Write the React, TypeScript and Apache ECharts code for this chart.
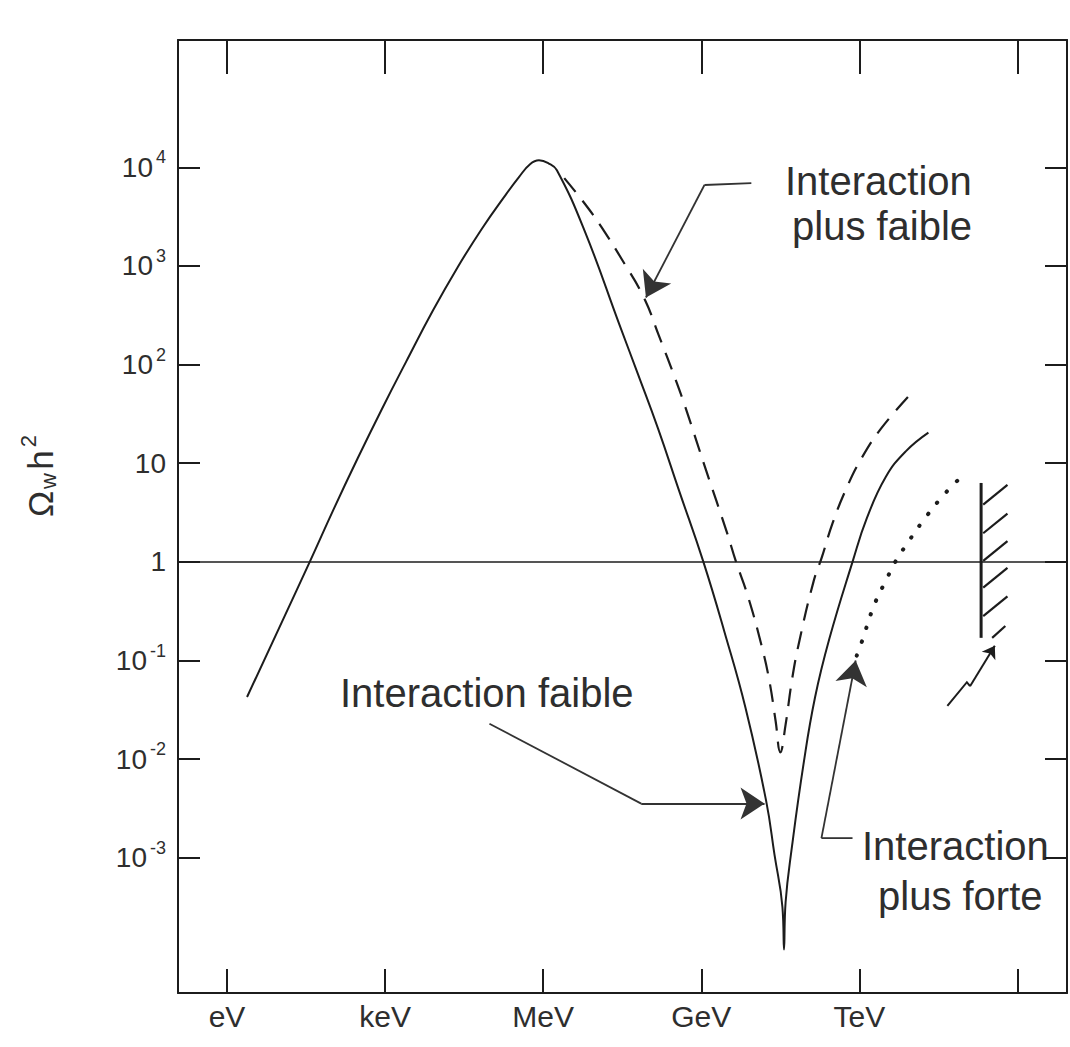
import React, { useEffect, useRef } from 'react';
import * as echarts from 'echarts';

// x = log10(mass / eV), y = log10(Ω_w h²)
const massTickValues = [0, 3, 6, 9, 12, 15];
const massTickLabels = ['eV', 'keV', 'MeV', 'GeV', 'TeV', ''];
const omegaTickValues = [-3, -2, -1, 0, 1, 2, 3, 4];

// solid curve: "Interaction faible"
const weakMass = [0.38, 1.57, 2.02, 2.48, 2.94, 3.40, 3.91, 4.38, 4.84, 5.26, 5.54, 5.75, 5.92, 6.10, 6.26, 6.79, 7.45, 7.80, 8.18, 8.58, 9.04, 9.44, 9.84, 10.23, 10.39, 10.54, 10.57, 10.60, 10.72, 10.94, 11.16, 11.43, 11.87, 12.14, 12.50, 12.88, 13.31];
const weakOmega = [-1.37, 0.0, 0.53, 1.05, 1.55, 2.03, 2.55, 2.99, 3.38, 3.70, 3.90, 4.03, 4.07, 4.04, 3.97, 3.35, 2.40, 1.90, 1.35, 0.72, 0.0, -0.71, -1.48, -2.42, -2.97, -3.50, -3.93, -3.45, -2.89, -2.05, -1.37, -0.78, 0.0, 0.44, 0.86, 1.12, 1.31];

// dashed curve: "Interaction plus faible"
const fainterMass = [6.40, 6.79, 7.11, 7.50, 7.91, 8.19, 8.49, 8.69, 9.09, 9.48, 9.66, 9.88, 10.14, 10.29, 10.41, 10.50, 10.60, 10.72, 10.85, 11.13, 11.29, 11.49, 11.75, 12.04, 12.41, 12.97];
const fainterOmega = [3.89, 3.63, 3.39, 3.06, 2.68, 2.30, 1.88, 1.58, 0.93, 0.31, 0.0, -0.34, -0.84, -1.20, -1.61, -1.93, -1.65, -1.20, -0.83, -0.20, 0.05, 0.39, 0.74, 1.05, 1.35, 1.70];

// dotted curve: "Interaction plus forte"
const strongerMass = [11.95, 12.04, 12.28, 12.53, 12.68, 12.90, 13.20, 13.57, 13.95];
const strongerOmega = [-0.95, -0.82, -0.44, -0.16, 0.0, 0.18, 0.41, 0.66, 0.87];

// hatched bound
const boundMass = [14.31, 14.31];
const boundOmega = [-0.77, 0.80];
const hatchOmega = [0.58, 0.29, 0.01, -0.26, -0.55];

// annotation leaders (data coords), last point = arrow tip
const leaderFainter = [[9.95, 3.84], [9.06, 3.82], [7.95, 2.68]];
const leaderWeak = [[4.98, -1.64], [7.86, -2.45], [10.2, -2.45]];
const leaderStronger = [[11.87, -2.80], [11.28, -2.80], [11.93, -1.00]];
const zigzag = [[13.67, -1.46], [14.04, -1.22], [14.10, -1.26], [14.57, -0.85]];

const X_MIN = -0.93;
const X_MAX = 15.94;
const Y_MIN = -4.37;
const Y_MAX = 5.29;

const App = () => {
  const ref = useRef<HTMLDivElement>(null);
  useEffect(() => {
    document.body.style.margin = '0';
    const chart = echarts.init(ref.current!, null, { renderer: 'svg' });
    const ink = '#1c1c1c';
    const textInk = '#2e2e2e';
    const font = "'Liberation Sans', Arial, sans-serif";
    const pair = (xs: number[], ys: number[]) => xs.map((x, i) => [x, ys[i]]);

    const axisLine = { show: true, onZero: false, lineStyle: { color: ink, width: 2 } };

    const hatchData: any[] = hatchOmega.map((y) => ({ coords: [[boundMass[0] + 0.04, y], [boundMass[0] + 0.5, y + 0.2]] }));
    hatchData.push({ coords: [[14.52, -0.77], [14.77, -0.65]] });

    const leaders = [leaderFainter, leaderWeak, leaderStronger];
    const bodies = leaders.map((pts) => ({ coords: pts.slice(0, pts.length - 1) }));
    const heads = leaders.map((pts) => ({ coords: pts.slice(pts.length - 2) }));

    const option: any = {
      animation: false,
      backgroundColor: '#ffffff',
      grid: { left: 178, right: 3, top: 40, bottom: 54, containLabel: false },
      xAxis: [
        {
          type: 'value', position: 'bottom', min: X_MIN, max: X_MAX,
          axisLine,
          axisTick: { show: true, inside: true, length: 24, customValues: massTickValues, lineStyle: { color: ink, width: 2 } },
          axisLabel: {
            show: true, customValues: massTickValues.slice(0, 5), margin: 8,
            fontFamily: font, fontSize: 30, color: textInk,
            formatter: (v: number) => massTickLabels[massTickValues.indexOf(v)] ?? '',
          },
          splitLine: { show: false },
        },
        {
          type: 'value', position: 'top', min: X_MIN, max: X_MAX,
          axisLine,
          axisTick: { show: true, inside: true, length: 34, customValues: massTickValues, lineStyle: { color: ink, width: 2 } },
          axisLabel: { show: false },
          splitLine: { show: false },
        },
      ],
      yAxis: [
        {
          type: 'value', position: 'left', min: Y_MIN, max: Y_MAX,
          axisLine,
          axisTick: { show: true, inside: true, length: 22, customValues: omegaTickValues, lineStyle: { color: ink, width: 2 } },
          axisLabel: {
            show: true, customValues: omegaTickValues, margin: 12,
            fontFamily: font, fontSize: 28, color: textInk,
            formatter: (v: number) => (v === 0 ? '1' : v === 1 ? '10' : '10{sup|' + v + '}'),
            rich: { sup: { fontFamily: font, fontSize: 18, color: textInk, padding: [0, 0, 20, 3] } },
          },
          splitLine: { show: false },
        },
        {
          type: 'value', position: 'right', min: Y_MIN, max: Y_MAX,
          axisLine,
          axisTick: { show: true, inside: true, length: 22, customValues: omegaTickValues, lineStyle: { color: ink, width: 2 } },
          axisLabel: { show: false },
          splitLine: { show: false },
        },
      ],
      series: [
        {
          name: 'Interaction faible', type: 'line', data: pair(weakMass, weakOmega),
          showSymbol: false, smooth: 0.45, lineStyle: { color: ink, width: 2 },
          markLine: {
            silent: true, symbol: 'none', label: { show: false },
            lineStyle: { color: ink, width: 1.6, type: 'solid' },
            data: [{ yAxis: 0 }],
          },
        },
        {
          name: 'Interaction plus faible', type: 'line', data: pair(fainterMass, fainterOmega),
          showSymbol: false, smooth: 0.45, lineStyle: { color: ink, width: 2.2, type: [18, 11] },
        },
        {
          name: 'Interaction plus forte', type: 'line', data: pair(strongerMass, strongerOmega),
          showSymbol: false, smooth: 0.45, lineStyle: { color: ink, width: 4, type: [0.5, 14], cap: 'round' },
        },
        {
          name: 'bound', type: 'line', data: pair(boundMass, boundOmega),
          showSymbol: false, lineStyle: { color: ink, width: 3 },
        },
        {
          name: 'hatch', type: 'lines', coordinateSystem: 'cartesian2d',
          data: hatchData, symbol: 'none', lineStyle: { color: ink, width: 2.2, opacity: 1, curveness: 0 },
        },
        {
          name: 'leader lines', type: 'lines', coordinateSystem: 'cartesian2d', polyline: true,
          data: bodies,
          lineStyle: { color: '#333', width: 1.8, opacity: 1, curveness: 0 },
        },
        {
          name: 'leader arrows', type: 'lines', coordinateSystem: 'cartesian2d',
          data: heads, symbol: ['none', 'arrow'], symbolSize: [18, 24],
          lineStyle: { color: '#333', width: 1.8, opacity: 1, curveness: 0 },
          itemStyle: { color: '#555' },
        },
        {
          name: 'zigzag', type: 'lines', coordinateSystem: 'cartesian2d', polyline: true,
          data: [{ coords: zigzag.slice(0, 3) }],
          lineStyle: { color: ink, width: 2, opacity: 1, curveness: 0 },
        },
        {
          name: 'zigzag arrow', type: 'lines', coordinateSystem: 'cartesian2d',
          data: [{ coords: zigzag.slice(2) }], symbol: ['none', 'arrow'], symbolSize: [8, 12],
          lineStyle: { color: ink, width: 2, opacity: 1, curveness: 0 },
        },
      ],
      graphic: [
        {
          type: 'text', x: 40, y: 476, rotation: Math.PI / 2,
          style: {
            text: '{o|Ω}{w|w} {h|h}{s|2}', align: 'center', verticalAlign: 'middle', fill: textInk,
            rich: {
              o: { fontFamily: font, fontSize: 35, fill: textInk },
              w: { fontFamily: font, fontSize: 22, fill: textInk, padding: [16, 0, 0, 2] },
              h: { fontFamily: font, fontSize: 35, fill: textInk },
              s: { fontFamily: font, fontSize: 22, fill: textInk, padding: [0, 0, 24, 3] },
            },
          },
        },
        { type: 'text', x: 785, y: 181, style: { text: 'Interaction', font: `40px ${font}`, fill: textInk, align: 'left', verticalAlign: 'middle' } },
        { type: 'text', x: 792, y: 226, style: { text: 'plus faible', font: `40px ${font}`, fill: textInk, align: 'left', verticalAlign: 'middle' } },
        { type: 'text', x: 340, y: 693, style: { text: 'Interaction faible', font: `40px ${font}`, fill: textInk, align: 'left', verticalAlign: 'middle' } },
        { type: 'text', x: 862, y: 846, style: { text: 'Interaction', font: `40px ${font}`, fill: textInk, align: 'left', verticalAlign: 'middle' } },
        { type: 'text', x: 878, y: 896, style: { text: 'plus forte', font: `40px ${font}`, fill: textInk, align: 'left', verticalAlign: 'middle' } },
      ],
    };
    chart.setOption(option);
    return () => chart.dispose();
  }, []);
  return <div ref={ref} style={{ width: 1070, height: 1047 }} />;
};

export default App;
